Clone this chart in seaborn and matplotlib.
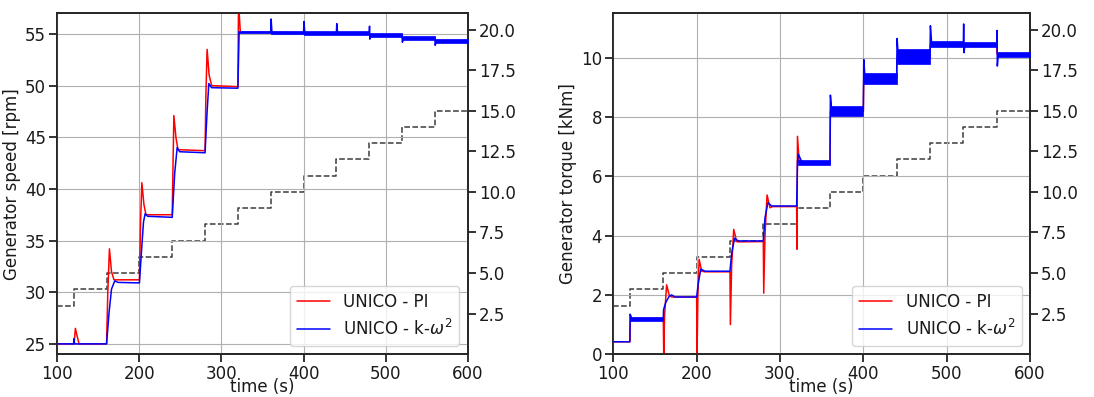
import numpy as np
import matplotlib
matplotlib.use("Agg")
import matplotlib.pyplot as plt
import seaborn as sns

## values
# wind speed steps (right axis, both panels)
wind_t = [100, 120, 160, 200, 240, 280, 320, 360, 400, 440, 480, 520, 560, 600]
wind_v = [3, 4, 5, 6, 7, 8, 9, 10, 11, 12, 13, 14, 15, 15]

# generator speed, PI controller (hidden under the blue trace after 320 s)
speed_pi_t = [100, 120, 120.5, 122, 124, 126.5, 160, 161.5, 163.5, 166, 169, 200,
              201.5, 203, 205.5, 208, 240, 241, 242, 244.5, 247, 280, 281, 282.5,
              285, 288, 320, 320.8, 323, 480, 480.5, 520, 520.5, 560, 560.5, 600]
speed_pi = [25.0, 25.0, 25.1, 26.5, 25.8, 25.0, 25.0, 30.0, 34.2, 32.0, 31.2, 31.2,
            37.0, 40.6, 38.5, 37.5, 37.5, 42.5, 47.1, 45.0, 43.8, 43.7, 49.0, 53.5,
            51.0, 50.0, 49.9, 58.0, 55.15, 55.1, 54.87, 54.87, 54.6, 54.6, 54.35, 54.35]

# generator speed, k-omega^2 controller
speed_kw_t = [100, 119.8, 120.3, 121, 160, 163, 166, 170, 174, 200, 203, 205, 207,
              210, 240, 243, 246, 249, 280, 282.5, 284.6, 288, 320, 321.5, 360,
              360.5, 361.5, 400, 400.5, 401.5, 440, 440.5, 441.5, 480, 480.4, 480.8,
              481.5, 520, 520.5, 521.5, 560, 560.5, 561.5, 600]
speed_kw = [25.0, 25.0, 25.5, 25.0, 25.0, 28.0, 30.3, 31.1, 30.95, 30.9, 34.5, 36.8,
            37.6, 37.35, 37.25, 41.5, 44.0, 43.6, 43.5, 47.5, 50.2, 49.8, 49.75, 55.15,
            55.15, 56.45, 55.15, 55.1, 56.2, 55.1, 55.1, 56.0, 55.1, 55.1, 55.75, 54.5,
            54.87, 54.87, 54.2, 54.6, 54.6, 53.9, 54.35, 54.35]

# oscillation envelope of the k-omega^2 speed
speed_band_start = [320, 360, 400, 480, 520, 560]
speed_band_end = [360, 400, 480, 520, 560, 600]
speed_band_lo = [55.05, 55.0, 54.94, 54.68, 54.4, 54.16]
speed_band_hi = [55.25, 55.3, 55.26, 55.06, 54.8, 54.55]

# generator torque, PI controller (hidden under the blue trace after 320 s)
torque_pi_t = [100, 120, 120.5, 122, 125, 160, 160.5, 161.5, 164, 167, 170, 200,
               200.5, 201.5, 203, 206, 210, 240, 240.5, 242, 244.5, 248, 250, 280,
               280.5, 282, 284.5, 288, 291, 320, 320.4, 321, 323, 360, 360.5, 400,
               400.5, 440, 440.5, 480, 480.5, 520, 520.5, 560, 560.5, 600]
torque_pi = [0.42, 0.42, 1.31, 1.22, 1.2, 1.2, 0.0, 1.3, 2.34, 2.0, 1.93, 1.93,
             0.05, 2.0, 3.2, 2.8, 2.78, 2.78, 1.0, 3.0, 4.21, 3.8, 3.79, 3.8,
             2.06, 4.0, 5.37, 4.94, 4.98, 4.98, 3.54, 7.35, 6.5, 6.45, 8.2, 8.2,
             9.3, 9.3, 10.0, 10.0, 10.46, 10.46, 10.45, 10.45, 10.13, 10.13]

# generator torque, k-omega^2 controller
torque_kw_t = [100, 119.8, 120.3, 121.5, 160, 160.3, 163, 167, 170, 174, 200, 202,
               205, 210, 240, 242, 245.5, 250, 280, 282, 285.5, 290, 320, 321, 322,
               326, 330, 360, 360.5, 362, 400, 400.5, 402, 440, 440.5, 442, 480,
               480.5, 482, 520, 520.4, 520.8, 522, 560, 560.4, 560.8, 562, 600]
torque_kw = [0.42, 0.42, 1.35, 1.2, 1.2, 1.5, 1.75, 1.95, 2.0, 1.93, 1.93, 2.4,
             2.87, 2.8, 2.8, 3.4, 3.91, 3.82, 3.82, 4.6, 5.11, 5.0, 5.0, 6.5, 6.75,
             6.5, 6.45, 6.45, 8.74, 8.25, 8.2, 9.94, 9.35, 9.3, 10.65, 10.05, 10.0,
             11.08, 10.46, 10.46, 11.14, 10.17, 10.45, 10.45, 10.92, 9.72, 10.13, 10.13]

# oscillation envelope of the k-omega^2 torque
torque_band_start = [120, 322, 360, 400, 440, 480, 520, 560]
torque_band_end = [160, 360, 400, 440, 480, 520, 560, 600]
torque_band_lo = [1.13, 6.38, 8.02, 9.12, 9.8, 10.36, 10.35, 10.03]
torque_band_hi = [1.24, 6.56, 8.38, 9.5, 10.28, 10.58, 10.53, 10.2]

sns.set_theme(style="ticks", rc={
    "axes.grid": True, "grid.color": "#b0b0b0", "grid.linewidth": 0.8,
    "axes.edgecolor": "#262626", "font.size": 12, "axes.labelsize": 12,
    "xtick.labelsize": 12, "ytick.labelsize": 12, "legend.fontsize": 12,
    "text.color": "#1a1a1a", "axes.labelcolor": "#1a1a1a",
    "xtick.color": "#1a1a1a", "ytick.color": "#1a1a1a",
})
plt.rcParams['font.family'] = ['DejaVu Sans']

fig = plt.figure(figsize=(10.94, 3.97), dpi=100)
ax_l = fig.add_axes([0.0524, 0.1078, 0.3751, 0.8587])
ax_r = fig.add_axes([0.5606, 0.1078, 0.3809, 0.8587])


def panel(ax, t_pi, y_pi, t_kw, y_kw, b_s, b_e, b_lo, b_hi, ylabel, ylim, yticks):
    sns.lineplot(x=t_pi, y=y_pi, estimator=None, sort=False, color="red", lw=1.1,
                 label="UNICO - PI", ax=ax)
    sns.lineplot(x=t_kw, y=y_kw, estimator=None, sort=False, color="blue", lw=1.1,
                 label=r"UNICO - k-$\omega^2$", ax=ax)
    for s, e, lo, hi in zip(b_s, b_e, b_lo, b_hi):
        ax.fill_between([s, e], [lo, lo], [hi, hi], color="blue", lw=0.5, zorder=3)
    ax.set_xlim(100, 600)
    ax.set_ylim(*ylim)
    ax.set_yticks(yticks)
    ax.set_xlabel("time (s)", labelpad=-3.5)
    ax.set_ylabel(ylabel, labelpad=3)
    ax.tick_params(pad=2)
    ax.legend(loc="lower right")

    ax2 = ax.twinx()
    sns.lineplot(x=wind_t, y=wind_v, estimator=None, sort=False, color="k", alpha=0.85,
                 lw=1.1, ls="--", drawstyle="steps-post", ax=ax2)
    ax2.grid(False)
    ax2.set_ylim(0, 21)
    ax2.set_yticks([2.5, 5, 7.5, 10, 12.5, 15, 17.5, 20])
    ax2.set_yticklabels(["2.5", "5.0", "7.5", "10.0", "12.5", "15.0", "17.5", "20.0"])
    ax2.tick_params(pad=2)
    ax2.set_ylabel("")
    ax.set_zorder(ax2.get_zorder() + 1)
    ax.patch.set_visible(False)


panel(ax_l, speed_pi_t, speed_pi, speed_kw_t, speed_kw, speed_band_start, speed_band_end,
      speed_band_lo, speed_band_hi, "Generator speed [rpm]", (24, 57), [25, 30, 35, 40, 45, 50, 55])
panel(ax_r, torque_pi_t, torque_pi, torque_kw_t, torque_kw, torque_band_start, torque_band_end,
      torque_band_lo, torque_band_hi, "Generator torque [kNm]", (0, 11.5), [0, 2, 4, 6, 8, 10])

fig.savefig("out.png", dpi=100)
